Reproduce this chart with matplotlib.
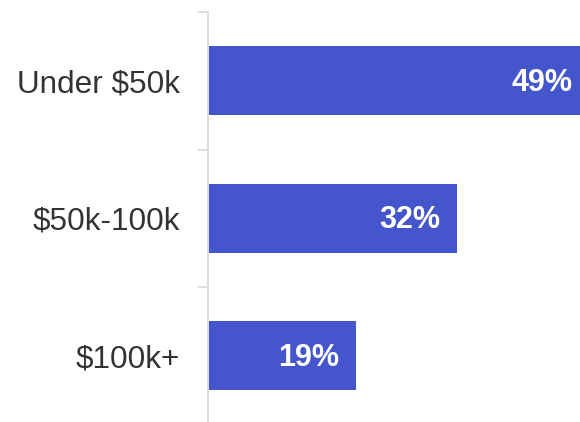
import matplotlib
matplotlib.use("Agg")
import matplotlib.pyplot as plt
import numpy as np

plt.rcParams['font.family'] = ['Liberation Sans', 'DejaVu Sans']

# income brackets and share of respondents (%)
categories = ["Under $50k", "$50k-100k", "$100k+"]
shares = [49, 32, 19]

bar_color = "#4556cc"
axis_color = "#dddddd"
text_color = "#333333"

fig = plt.figure(figsize=(5.8, 4.22), dpi=100)
# axes run off the right and bottom edge, like the original
ax = fig.add_axes([208 / 580, -2.5 / 422, 372 / 580, 412.5 / 422])

y = np.arange(len(categories))
ax.barh(y, shares, height=0.5, color=bar_color)

for yi, v in zip(y, shares):
    ax.annotate(f"{v}%", xy=(v, yi), xytext=(-12.5, -1.5), textcoords="offset points",
                ha="right", va="center", color="white", fontsize=22, fontweight="bold",
                annotation_clip=False)

ax.set_xlim(0, 372 / 7.79)
ax.set_ylim(2.5, -0.5)

ax.set_yticks(y)
ax.set_yticklabels(categories)
ax.set_yticks(np.arange(-0.5, len(categories)), minor=True)
ax.tick_params(axis="y", which="major", length=0, pad=20, labelsize=22.7, labelcolor=text_color)
ax.tick_params(axis="y", which="minor", length=7.2, width=1.44, color=axis_color)
ax.set_xticks([])

for side in ["top", "right", "bottom"]:
    ax.spines[side].set_visible(False)
ax.spines["left"].set_color(axis_color)
ax.spines["left"].set_linewidth(1.44)

fig.savefig("out.png", dpi=100)
